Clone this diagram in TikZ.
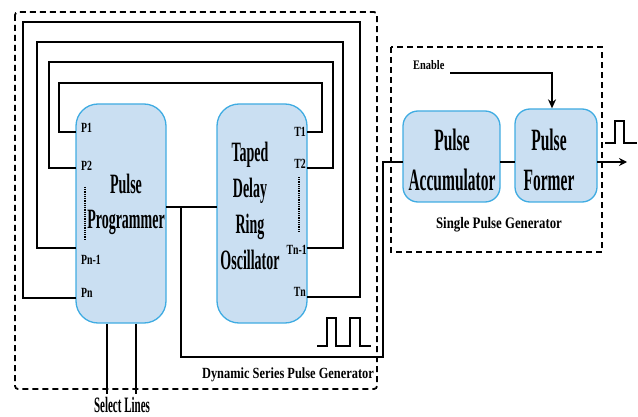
\documentclass[tikz,border=0pt]{standalone}
\usepackage{fontspec}
\setmainfont{Liberation Serif}
\newfontfamily\narrowfont[FakeStretch=0.5]{Liberation Serif}
\newfontfamily\labelfont[FakeStretch=0.8]{Liberation Serif}
\newfontfamily\portfont[FakeStretch=0.7]{Liberation Serif}
\usetikzlibrary{calc,arrows.meta}
\definecolor{blockfill}{RGB}{202,223,242}
\definecolor{blockline}{RGB}{64,172,226}
\tikzset{
	block/.style={draw=blockline, fill=blockfill, line width=1.3pt, rounded corners=22pt, inner sep=0pt},
	blocktext/.style={align=center, inner sep=0pt, font=\narrowfont\bfseries\fontsize{28}{35.5}\selectfont},
	wire/.style={line width=2.2pt},
	frame/.style={line width=1.8pt, dash pattern=on 6pt off 4pt},
	port/.style={inner sep=0pt, font=\portfont\bfseries\fontsize{14}{14}\selectfont},
	caption/.style={inner sep=0pt, font=\labelfont\bfseries\fontsize{15.5}{15.5}\selectfont},
	dots/.style={line width=1.3pt, dash pattern=on 0.9pt off 0.9pt},
}

\begin{document}
\begin{tikzpicture}[x=1pt, y=-1pt]
				\useasboundingbox (0,0) rectangle (638,417);

				%%%%% DYNAMIC SERIES PULSE GENERATOR %%%%%
				\draw[frame, rounded corners=3pt] (15,12) rectangle (377,389);
				\node[caption] (dsgen) at (288,375) {Dynamic Series Pulse Generator};

				\node[block, minimum width=90pt, minimum height=219pt] (prog) at (121,213.5) {};
				\node[blocktext] (progtext) at (126,204.5) {Pulse\\Programmer};
				\node[block, minimum width=90pt, minimum height=219pt] (osc) at (262,213.5) {};
				\node[blocktext, font=\narrowfont\bfseries\fontsize{28}{36}\selectfont] (osctext) at (250,206) {Taped\\Delay\\Ring\\Oscillator};

				% ports
				\coordinate (p1) at (76,132);
				\coordinate (p2) at (76,168);
				\coordinate (pn1) at (76,248);
				\coordinate (pn) at (76,298);
				\coordinate (t1) at (307,132);
				\coordinate (t2) at (307,168);
				\coordinate (tn1) at (307,248);
				\coordinate (tn) at (307,297);

				\node[port, anchor=west] (lp1) at (81,128) {P1};
				\node[port, anchor=west] (lp2) at (81,166) {P2};
				\node[port, anchor=west] (lpn1) at (81,260) {Pn-1};
				\node[port, anchor=west] (lpn) at (81,293) {Pn};
				\node[port, anchor=east] (lt1) at (306,132) {T1};
				\node[port, anchor=east] (lt2) at (306,164) {T2};
				\node[port, anchor=east] (ltn1) at (307,250) {Tn-1};
				\node[port, anchor=east] (ltn) at (306,292) {Tn};

				\draw[dots] (85,187) -- (85,240);
				\draw[dots] (299,177) -- (299,232);

				% feedback loops from the taps back to the programmer
				\foreach \a/\b/\x/\y/\xr in {p1/t1/59/83/322, p2/t2/49/62/333, pn1/tn1/37/42/343, pn/tn/23/22/360}
					\draw[wire] (\a) -| (\x,\y) -- (\xr,\y) |- (\b);

				\coordinate (pout) at (166,207);
				\coordinate (oin) at (217,207);
				\draw[wire] (pout) -- (oin);

				% select lines
				\node[font=\narrowfont\bfseries\fontsize{22}{22}\selectfont, inner sep=0pt] (sel) at (122,405) {Select Lines};
				\draw[wire] ($(prog.south)+(-14,0)$) -- ++(0,70);
				\draw[wire] ($(prog.south)+(15,0)$) -- ++(0,70);

				% pulse train
				\draw[wire] (317,346) -- (327,346) -- (327,318) -- (336,318) -- (336,346) -- (350,346)
					-- (350,318) -- (360,318) -- (360,346) -- (371,346);

				%%%%% SINGLE PULSE GENERATOR %%%%%
				\draw[frame] (391,47) rectangle (602,252);
				\node[caption, font=\labelfont\bfseries\fontsize{16}{16}\selectfont] (spgen) at (499,225) {Single Pulse Generator};

				\node[block, rounded corners=15pt, minimum width=97pt, minimum height=91pt] (acc) at (451.5,156.5) {};
				\node[blocktext, font=\narrowfont\bfseries\fontsize{31}{40}\selectfont] (acctext) at (452,160) {Pulse\\Accumulator};
				\node[block, rounded corners=15pt, minimum width=82pt, minimum height=93pt] (former) at (556,155.5) {};
				\node[blocktext, font=\narrowfont\bfseries\fontsize{31}{40}\selectfont] (formertext) at (549,160) {Pulse\\Former};

				\coordinate (ain) at (403,162);
				\coordinate (aout) at (500,162);
				\coordinate (fin) at (515,162);
				\coordinate (fout) at (597,162);
				\coordinate (tap) at ($(pout)!0.29!(oin)$);
				\draw[wire] (tap) |- (383,357) |- (ain);
				\draw[wire] (aout) -- (fin);
				\draw[wire, -{Stealth[length=8pt, width=8pt]}] (fout) -- ++(30,0);

				\node[port, font=\labelfont\bfseries\fontsize{13}{13}\selectfont, anchor=west] (en) at (413,65) {Enable};
				\draw[wire, -{Stealth[length=9pt, width=8pt]}] (450,73) -| ($(former.north)+(-4,0)$);

				% output pulse
				\draw[wire] (605,143) -- (615,143) -- (615,121) -- (624,121) -- (624,143) -- (637,143);
				%%%%% END %%%%%
\end{tikzpicture}
\end{document}
